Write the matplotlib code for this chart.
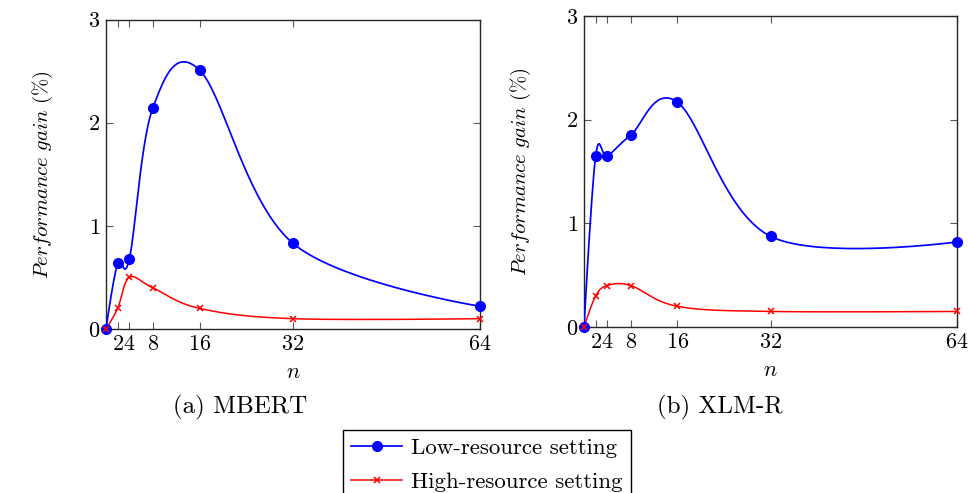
import numpy as np
import matplotlib
matplotlib.use("Agg")
import matplotlib.pyplot as plt
from matplotlib.lines import Line2D

plt.rcParams['mathtext.fontset'] = 'cm'
plt.rcParams['font.family'] = ['cmr10', 'DejaVu Serif']
plt.rcParams['axes.unicode_minus'] = False
plt.rcParams['axes.formatter.use_mathtext'] = True

n_values = [0, 2, 4, 8, 16, 32, 64]
mbert_low = [0.0, 0.64, 0.68, 2.14, 2.51, 0.83, 0.22]
mbert_high = [0.0, 0.20, 0.50, 0.40, 0.20, 0.10, 0.10]
xlmr_low = [0.0, 1.65, 1.65, 1.85, 2.17, 0.875, 0.82]
xlmr_high = [0.0, 0.30, 0.40, 0.40, 0.20, 0.15, 0.15]
xticks = [2, 4, 8, 16, 32, 64]
yticks = [0, 1, 2, 3]
captions = ["(a) MBERT", "(b) XLM-R"]
legend_labels = ["Low-resource setting", "High-resource setting"]

BLUE = '#0000ff'
RED = '#ff0000'


def smooth(xs, ys, k=0.17, m=40):
    p = np.column_stack([xs, ys]).astype(float)
    n = len(p)
    out = [p[0]]
    for i in range(n - 1):
        p0 = p[i]
        p3 = p[i + 1]
        prev = p[i - 1] if i > 0 else p[i]
        nxt = p[i + 2] if i + 2 < n else p[i + 1]
        c1 = p0 + k * (p3 - prev) if i > 0 else p0
        c2 = p3 - k * (nxt - p0) if i + 2 < n else p3
        t = np.linspace(0, 1, m)[1:, None]
        seg = ((1 - t) ** 3) * p0 + 3 * ((1 - t) ** 2) * t * c1 + 3 * (1 - t) * t ** 2 * c2 + t ** 3 * p3
        out.extend(seg)
    out = np.array(out)
    return out[:, 0], out[:, 1]


fig = plt.figure(figsize=(9.68, 4.93), dpi=100)
axes_rects = [[106 / 968, 1 - 329 / 493, 374 / 968, 309.5 / 493],
              [584 / 968, 1 - 327 / 493, 373 / 968, 311 / 493]]
datasets = [(mbert_low, mbert_high), (xlmr_low, xlmr_high)]

for rect, (low, high) in zip(axes_rects, datasets):
    ax = fig.add_axes(rect)
    sx, sy = smooth(n_values, high)
    ax.plot(sx, sy, color=RED, lw=1.1, zorder=3)
    ax.plot(n_values, high, ls='none', marker='x', color=RED, ms=5, mew=1.1, zorder=4, clip_on=False)
    sx, sy = smooth(n_values, low)
    ax.plot(sx, sy, color=BLUE, lw=1.25, zorder=5)
    ax.plot(n_values, low, ls='none', marker='o', color=BLUE, ms=7, zorder=6, clip_on=False)
    ax.plot([n_values[0]], [high[0]], ls='none', marker='x', color=RED, ms=5, mew=1.1, zorder=7, clip_on=False)
    ax.set_xlim(0, 64)
    ax.set_ylim(0, 3)
    ax.set_xticks(xticks)
    ax.set_yticks(yticks)
    ax.set_xticklabels([f"${v}$" for v in xticks], fontsize=16)
    ax.set_yticklabels([f"${v}$" for v in yticks], fontsize=16)
    ax.tick_params(direction='in', top=True, right=True, length=5, width=0.8, color='0.35', pad=4)
    for s in ax.spines.values():
        s.set_linewidth(1.0)
        s.set_color('0.15')
    ax.set_xlabel(r'$n$', fontsize=16, labelpad=6)
    ax.set_ylabel(r'$Per formance\ gain\ (\%)$', fontsize=15, labelpad=24)

fig.text(240 / 968, 1 - 407 / 493, captions[0], fontsize=18, ha='center', va='center')
fig.text(720 / 968, 1 - 407 / 493, captions[1], fontsize=18, ha='center', va='center')

handles = [Line2D([], [], color=BLUE, lw=1.25, marker='o', ms=7),
           Line2D([], [], color=RED, lw=1.1, marker='x', ms=5, mew=1.1)]
leg = fig.legend(handles, legend_labels, loc='upper center', bbox_to_anchor=(487 / 968, 1 - 430 / 493),
                 fontsize=16.5, frameon=True, fancybox=False, edgecolor='black', framealpha=1,
                 handlelength=2.2, handletextpad=0.4, borderpad=0.35, labelspacing=0.6, borderaxespad=0)
leg.get_frame().set_linewidth(1.0)

fig.savefig('out.png', dpi=100)
